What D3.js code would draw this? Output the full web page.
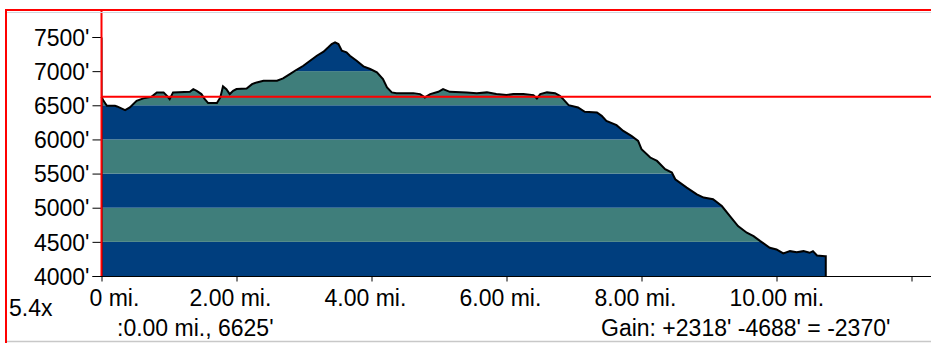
<!DOCTYPE html>
<html>
<head>
<meta charset="utf-8">
<script src="https://cdn.jsdelivr.net/npm/d3@7"></script>
<style>
  html, body { margin: 0; padding: 0; background: #fff; }
  svg { display: block; }
  text { font-family: "Liberation Sans", Arial, sans-serif; font-size: 23px; fill: #000; }
</style>
</head>
<body>
<svg id="chart" width="931" height="343"></svg>
<script>
// ---- data (miles, feet) ----
const distanceMi = [0.00,0.03,0.08,0.20,0.23,0.35,0.42,0.52,0.62,0.74,0.82,0.92,0.97,1.01,1.06,1.31,1.36,1.41,1.48,1.53,1.58,1.71,1.76,1.80,1.85,1.90,1.95,2.00,2.15,2.23,2.30,2.40,2.60,2.69,2.79,2.89,2.99,3.09,3.19,3.29,3.36,3.41,3.46,3.51,3.56,3.63,3.68,3.78,3.88,3.98,4.08,4.17,4.23,4.30,4.37,4.62,4.72,4.79,4.87,4.99,5.06,5.16,5.41,5.56,5.71,5.85,6.00,6.10,6.25,6.40,6.45,6.50,6.60,6.72,6.79,6.84,6.92,7.06,7.16,7.34,7.41,7.48,7.63,7.73,7.85,7.95,8.00,8.13,8.23,8.35,8.45,8.50,8.67,8.82,8.92,9.06,9.19,9.31,9.43,9.56,9.66,9.76,9.90,10.00,10.10,10.20,10.30,10.40,10.49,10.54,10.60,10.72,10.73];
const elevationFt = [6625,6565,6492,6492,6483,6429,6468,6565,6601,6624,6689,6689,6639,6590,6689,6697,6737,6712,6664,6590,6532,6532,6615,6777,6737,6664,6712,6737,6747,6810,6835,6859,6859,6894,6957,7020,7079,7152,7226,7285,7349,7397,7422,7397,7299,7276,7226,7152,7070,7031,6982,6884,6762,6689,6678,6678,6664,6615,6664,6697,6737,6697,6689,6678,6689,6664,6649,6664,6664,6649,6601,6664,6689,6678,6639,6590,6502,6468,6404,6395,6345,6272,6209,6125,6052,5978,5857,5735,5685,5563,5515,5416,5294,5196,5148,5123,5024,4878,4731,4634,4584,4511,4414,4389,4330,4364,4349,4364,4340,4364,4301,4291,4291];

const yTickValues = [4000,4500,5000,5500,6000,6500,7000,7500];
const yTickLabels = ["4000'","4500'","5000'","5500'","6000'","6500'","7000'","7500'"];
const xTickValues = [0,2,4,6,8,10,12];
const xTickLabels = ["0 mi.","2.00 mi.","4.00 mi.","6.00 mi.","8.00 mi.","10.00 mi.",""];
const bandColors = ["#003e7e", "#3f7e7b"];
const cursorElevation = 6625;
const scaleLabel = "5.4x";
const cursorLabel = ":0.00 mi., 6625'";
const gainLabel = "Gain: +2318' -4688' = -2370'";

const data = distanceMi.map((d, i) => ({ d, e: elevationFt[i] }));

const svg = d3.select("#chart");
const x = d3.scaleLinear().domain([0, 12]).range([101.5, 911.5]);
const y = d3.scaleLinear().domain([4000, 7500]).range([276, 37]);

// clip path from the profile area
const area = d3.area().x(p => x(p.d)).y0(y(4000)).y1(p => y(p.e));
svg.append("clipPath").attr("id", "prof").append("path").attr("d", area(data));

// elevation bands (500 ft each)
const bands = d3.range(4000, 7500, 500);
svg.append("g").attr("clip-path", "url(#prof)")
  .selectAll("rect").data(bands).join("rect")
  .attr("x", x(0)).attr("width", x(12) - x(0))
  .attr("y", b => y(b + 500)).attr("height", b => y(b) - y(b + 500))
  .attr("fill", (b, i) => bandColors[i % 2]);

// outline
const line = d3.line().x(p => x(p.d)).y(p => y(p.e));
const last = data[data.length - 1];
svg.append("path")
  .attr("d", line(data) + "L" + x(last.d) + "," + y(4000))
  .attr("fill", "none").attr("stroke", "#000").attr("stroke-width", 2);

// x axis
const xAxis = svg.append("g").attr("transform", `translate(0,${y(4000) + 0.5})`)
  .call(d3.axisBottom(x).tickValues(xTickValues).tickSize(5).tickFormat(""));
xAxis.select(".domain").attr("d", `M${x(0)},0H931`).attr("stroke", "#000");
xAxis.selectAll(".tick line").attr("stroke", "#000");

svg.append("g").selectAll("text").data(xTickValues).join("text")
  .attr("x", (v) => v === 0 ? x(v) - 12 : x(v) - 47)
  .attr("y", 306)
  .text((v, i) => xTickLabels[i]);

// y axis
const yAxis = svg.append("g").attr("transform", `translate(${x(0)},0)`)
  .call(d3.axisLeft(y).tickValues(yTickValues).tickSize(9).tickFormat((v, i) => yTickLabels[i]));
yAxis.select(".domain").attr("stroke", "#000");
yAxis.selectAll(".tick line").attr("stroke", "#000");
yAxis.selectAll(".tick text")
  .attr("x", -12).attr("dy", "0.36em")
  .style("font-family", '"Liberation Sans", Arial, sans-serif').style("font-size", "23px").attr("fill", "#000");

// cursor lines
svg.append("line").attr("x1", x(0)).attr("x2", 931)
  .attr("y1", y(cursorElevation)).attr("y2", y(cursorElevation))
  .attr("stroke", "#ff0000").attr("stroke-width", 2);
svg.append("line").attr("x1", x(0)).attr("x2", x(0))
  .attr("y1", 10).attr("y2", y(4000))
  .attr("stroke", "#ff0000").attr("stroke-width", 2);

// frame
svg.append("line").attr("x1", 5).attr("x2", 931).attr("y1", 12.5).attr("y2", 12.5)
  .attr("stroke", "#d0d6de").attr("stroke-width", 1);
svg.append("line").attr("x1", 5).attr("x2", 931).attr("y1", 10).attr("y2", 10)
  .attr("stroke", "#ff0000").attr("stroke-width", 2);
svg.append("line").attr("x1", 6).attr("x2", 931).attr("y1", 341.5).attr("y2", 341.5)
  .attr("stroke", "#c8c8c8").attr("stroke-width", 1.5);
svg.append("line").attr("x1", 6).attr("x2", 6).attr("y1", 9).attr("y2", 343)
  .attr("stroke", "#ff0000").attr("stroke-width", 2);

// labels
svg.append("text").attr("x", 9).attr("y", 316).text(scaleLabel);
svg.append("text").attr("x", 117).attr("y", 336).text(cursorLabel);
svg.append("text").attr("x", 601).attr("y", 336).text(gainLabel);
</script>
</body>
</html>
